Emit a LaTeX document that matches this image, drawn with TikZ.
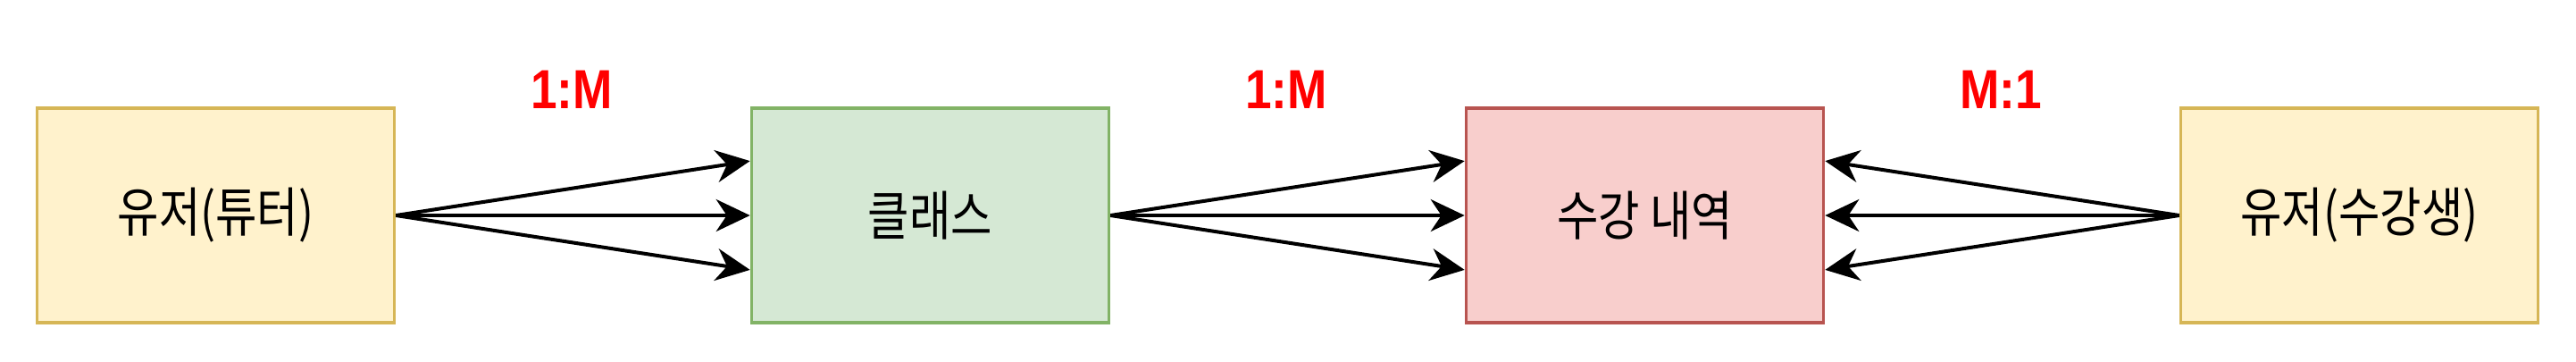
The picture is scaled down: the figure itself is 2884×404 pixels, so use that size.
\documentclass[tikz,border=0pt]{standalone}
\usepackage{fontspec}
\setmainfont{Liberation Sans}
\newfontfamily\kr{Noto Sans CJK KR}
\usetikzlibrary{arrows.meta,calc}
\definecolor{yfill}{HTML}{FFF2CC}
\definecolor{ydraw}{HTML}{D6B656}
\definecolor{gfill}{HTML}{D5E8D4}
\definecolor{gdraw}{HTML}{82B366}
\definecolor{rfill}{HTML}{F8CECC}
\definecolor{rdraw}{HTML}{B85450}
\definecolor{lblred}{HTML}{FF0000}
\newcommand{\tallkr}[1]{\scalebox{0.97}[1.15]{#1}}
\tikzset{
  box/.style={draw, line width=1.8pt, minimum width=200pt, minimum height=120pt, inner sep=0pt, font=\kr\fontsize{26}{30}\selectfont},
  ybox/.style={box, fill=yfill, draw=ydraw},
  gbox/.style={box, fill=gfill, draw=gdraw},
  rbox/.style={box, fill=rfill, draw=rdraw},
  lbl/.style={text=lblred, font=\bfseries\fontsize{28}{32}\selectfont, inner sep=0pt},
  conn/.style={line width=2pt, -{Stealth[length=19pt, width=18pt, inset=6pt]}}
}
\begin{document}
\begin{tikzpicture}[x=0.5pt, y=-0.5pt]
\useasboundingbox (0,0) rectangle (2884,404);
\node[ybox] (u1) at (241.5,241) {\tallkr{유저(튜터)}};
\node[gbox] (cl) at (1041.5,241) {\tallkr{클래스}};
\node[rbox] (en) at (1841.5,241) {\tallkr{수강 내역}};
\node[ybox] (u2) at (2641.5,241) {\tallkr{유저(수강생)}};
\node[lbl] (l1) at (640,100) {\scalebox{0.95}[1.1]{1:M}};
\node[lbl] (l2) at (1440,100) {\scalebox{0.95}[1.1]{1:M}};
\node[lbl] (l3) at (2240,100) {\scalebox{0.95}[1.1]{M:1}};
\draw[conn] (u1.east) -- ($(cl.north west)!0.25!(cl.south west)$);
\draw[conn] (u1.east) -- (cl.west);
\draw[conn] (u1.east) -- ($(cl.north west)!0.75!(cl.south west)$);
\draw[conn] (cl.east) -- ($(en.north west)!0.25!(en.south west)$);
\draw[conn] (cl.east) -- (en.west);
\draw[conn] (cl.east) -- ($(en.north west)!0.75!(en.south west)$);
\draw[conn] (u2.west) -- ($(en.north east)!0.25!(en.south east)$);
\draw[conn] (u2.west) -- (en.east);
\draw[conn] (u2.west) -- ($(en.north east)!0.75!(en.south east)$);
\end{tikzpicture}
\end{document}
